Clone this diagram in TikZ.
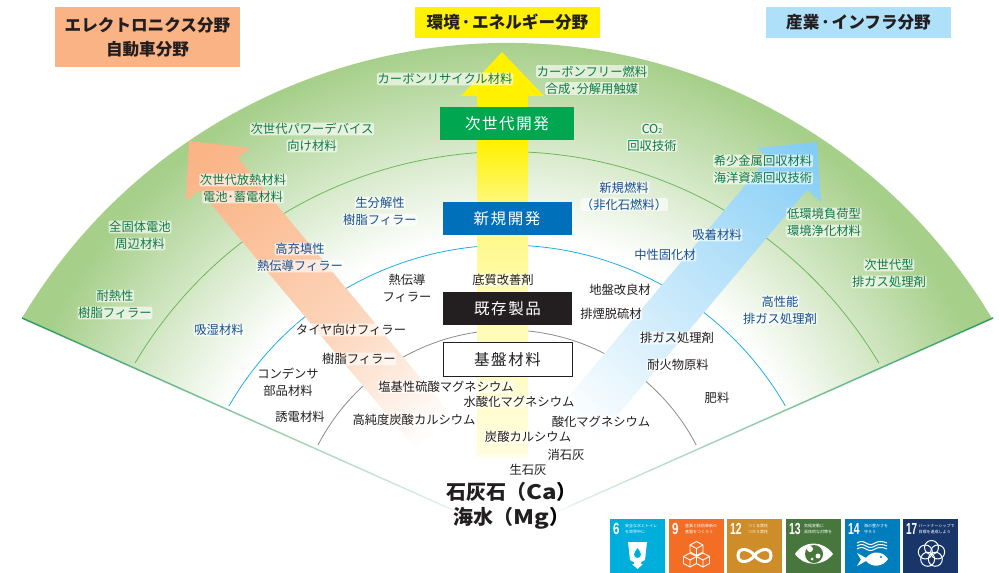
\documentclass[tikz,border=0pt]{standalone}
\usepackage{fontspec}
\setmainfont{Noto Sans CJK JP}
\newfontfamily\numfont{Liberation Sans}
\definecolor{fangreen}{HTML}{A6CF8A}
\definecolor{labelgreen}{HTML}{0F7A45}
\definecolor{labelblue}{HTML}{17508F}
\definecolor{labelblack}{HTML}{231F20}
\definecolor{arcgreen}{HTML}{6DB858}
\definecolor{arcblue}{HTML}{1EAEE6}
\definecolor{arcgray}{HTML}{8C8C8C}
\definecolor{edgegreen}{HTML}{2A9A5A}
\definecolor{boxgreen}{HTML}{00A650}
\definecolor{boxblue}{HTML}{0070BB}
\definecolor{headorange}{HTML}{FAB384}
\definecolor{headyellow}{HTML}{FFF100}
\definecolor{headblue}{HTML}{AEE0FA}
\definecolor{arrowblue}{HTML}{7FCBF5}
\definecolor{sdgsix}{HTML}{00AEDB}
\definecolor{sdgnine}{HTML}{F36D25}
\definecolor{sdgtwelve}{HTML}{CF8D2A}
\definecolor{sdgthirteen}{HTML}{48773E}
\definecolor{sdgfourteen}{HTML}{007DBC}
\definecolor{sdgseventeen}{HTML}{19366B}
\pgfdeclareradialshading{fanfade}{\pgfpointorigin}{color(0bp)=(white); color(14.5bp)=(white); color(23.6bp)=(fangreen); color(50bp)=(fangreen)}
\pgfdeclareverticalshading{yellowfade}{100bp}{color(0bp)=(white); color(25bp)=(white); color(26bp)=(headyellow!14); color(45bp)=(headyellow!30); color(57bp)=(headyellow!55); color(64bp)=(headyellow); color(100bp)=(headyellow)}
\pgfdeclareverticalshading{orangefade}{100bp}{color(0bp)=(white); color(21bp)=(white); color(45bp)=(headorange!55); color(72bp)=(headorange!90); color(85bp)=(headorange); color(100bp)=(headorange)}
\pgfdeclareverticalshading{bluefade}{100bp}{color(0bp)=(white); color(20bp)=(white); color(45bp)=(arrowblue!38); color(72bp)=(arrowblue!78); color(85bp)=(arrowblue); color(100bp)=(arrowblue)}
\tikzset{halobox/.style={fill=white, fill opacity=.62, text opacity=1, inner sep=.7pt, rounded corners=1.5pt}}
\newcommand{\halo}[1]{\tikz[baseline=(line.base)]\node[halobox] (line) {#1};}
\begin{document}
\begin{tikzpicture}[x=1pt,y=-1pt]
    \tikzstyle{greenlabel}=[text=labelgreen, align=center, inner sep=0pt, font=\fontsize{12.3}{17}\selectfont]
    \tikzstyle{bluelabel}=[greenlabel, text=labelblue]
    \tikzstyle{blacklabel}=[greenlabel, text=labelblack]
    \tikzstyle{stagebox}=[minimum width=129pt, minimum height=33pt, inner sep=0pt, text=white, font=\fontsize{15.5}{18}\selectfont\addfontfeature{LetterSpace=10}]
    \tikzstyle{headbox}=[minimum width=185pt, inner sep=0pt, align=center, text=labelblack, font=\fontsize{16.6}{24}\selectfont\bfseries]
    \tikzstyle{sdgtile}=[anchor=north west, minimum width=55pt, minimum height=54pt, inner sep=0pt]
    \tikzstyle{sdgnum}=[anchor=west, inner sep=0pt, text=white, font=\numfont\fontsize{16}{16}\selectfont\bfseries]
    \tikzstyle{sdgtext}=[anchor=west, inner sep=0pt, text=white, font=\fontsize{4}{6}\selectfont, align=left]
    \useasboundingbox (0,0) rectangle (999,573);

    \begin{scope}
      \clip (22,318) arc (210.88:329.12:565) -- (507,534) -- cycle;
      \shade[shading=fanfade] (-33,10) rectangle (1047,1090);
    \end{scope}

    \draw[arcgreen, line width=.8pt] (135,363) arc (210.8:329.2:433);
    \draw[arcblue, line width=.8pt] (229,406) arc (209.93:330.07:321);
    \draw[arcgray, line width=.8pt] (318,445) arc (207.4:332.6:213);

    \shade[shading=yellowfade] (477,460) -- (477,96) -- (461,96) -- (502,52) -- (544,96) -- (528,96) -- (528,460) -- cycle;
    \shade[shading=orangefade, shading angle=40] (189,141) -- (250,148) -- (238,158) -- (462,428) -- (425,460) -- (199,190) -- (186,201) -- cycle;
    \shade[shading=bluefade, shading angle=-40] (817,142) -- (757,148) -- (768,158) -- (553,415) -- (590,448) -- (807,190) -- (821,202) -- cycle;

    \shade[left color=edgegreen, middle color=edgegreen!75, right color=white] (22,317.2) -- (507,533.2) -- (507,534.8) -- (22,318.8) -- cycle;
    \shade[left color=white, middle color=edgegreen!75, right color=edgegreen] (993,317.2) -- (507,533.2) -- (507,534.8) -- (993,318.8) -- cycle;

    \node[stagebox, fill=boxgreen, minimum width=134pt] (nextdev) at (507,123.5) {次世代開発};
    \node[stagebox, fill=boxblue] (newdev) at (507,218.5) {新規開発};
    \node[stagebox, fill=labelblack] (existing) at (507.5,308.5) {既存製品};
    \node[stagebox, fill=white, draw=labelblack, line width=.8pt, text=labelblack, minimum height=34pt] (base) at (507.5,359.5) {基盤材料};

    \node[headbox, fill=headorange, minimum height=60pt] (headleft) at (147.5,37) {エレクトロニクス分野\\自動車分野};
    \node[headbox, fill=headyellow, minimum height=31pt] (headmid) at (507.5,22.5) {環境\kern2pt･\kern2pt エネルギー分野};
    \node[headbox, fill=headblue, minimum height=31pt] (headright) at (858.5,22.5) {産業\kern2pt･\kern2pt インフラ分野};

    \node[greenlabel] (crmat) at (445,79) {\halo{カーボンリサイクル材料}};
    \node[greenlabel] (cffuel) at (592,80) {\halo{カーボンフリー燃料}\\\halo{合成･分解用触媒}};
    \node[greenlabel] (power) at (312,137.5) {\halo{次世代パワーデバイス}\\\halo{向け材料}};
    \node[greenlabel] (cotwo) at (652,137.5) {\halo{CO\raisebox{-.1ex}{\fontsize{7}{7}\selectfont 2}}\\\halo{回収技術}};
    \node[greenlabel] (heat) at (243,188.5) {\halo{次世代放熱材料}\\\halo{電池･蓄電材料}};
    \node[greenlabel] (solid) at (140,235.5) {\halo{全固体電池}\\\halo{周辺材料}};
    \node[greenlabel] (resist) at (115,304.5) {\halo{耐熱性}\\\halo{樹脂フィラー}};
    \node[greenlabel] (rare) at (763,169.5) {\halo{希少金属回収材料}\\\halo{海洋資源回収技術}};
    \node[greenlabel] (lowload) at (824,222.5) {\halo{低環境負荷型}\\\halo{環境浄化材料}};
    \node[greenlabel] (nextexh) at (889,273.5) {\halo{次世代型}\\\halo{排ガス処理剤}};

    \node[bluelabel] (biodeg) at (380,211.5) {\halo{生分解性}\\\halo{樹脂フィラー}};
    \node[bluelabel] (hifill) at (300,257.5) {\halo{高充填性}\\\halo{熱伝導フィラー}};
    \node[bluelabel] (moist) at (219,330) {\halo{吸湿材料}};
    \node[bluelabel] (newfuel) at (624,196) {\halo{新規燃料}\\\halo{（非化石燃料）}};
    \node[bluelabel] (adsorb) at (717,235) {\halo{吸着材料}};
    \node[bluelabel] (neutral) at (665,255) {\halo{中性固化材}};
    \node[bluelabel] (hiperf) at (780,310) {\halo{高性能}\\\halo{排ガス処理剤}};

    \node[blacklabel] (thermal) at (407,288.5) {\halo{熱伝導}\\\halo{フィラー}};
    \node[blacklabel] (sediment) at (503,280) {\halo{底質改善剤}};
    \node[blacklabel] (ground) at (620,290) {\halo{地盤改良材}};
    \node[blacklabel] (flue) at (611,314) {\halo{排煙脱硫材}};
    \node[blacklabel] (exhaust) at (677,338) {\halo{排ガス処理剤}};
    \node[blacklabel] (refract) at (678,365) {\halo{耐火物原料}};
    \node[blacklabel] (fertil) at (717,398) {\halo{肥料}};
    \node[blacklabel] (tire) at (351,330) {\halo{タイヤ向けフィラー}};
    \node[blacklabel] (resin) at (359,359) {\halo{樹脂フィラー}};
    \node[blacklabel] (capac) at (288,382.5) {\halo{コンデンサ}\\\halo{部品材料}};
    \node[blacklabel] (dielec) at (300,417) {\halo{誘電材料}};
    \node[blacklabel] (basicmg) at (446,387) {\halo{塩基性硫酸マグネシウム}};
    \node[blacklabel] (hydmg) at (519,402) {\halo{水酸化マグネシウム}};
    \node[blacklabel] (purecal) at (414,420) {\halo{高純度炭酸カルシウム}};
    \node[blacklabel] (oxmg) at (601,422) {\halo{酸化マグネシウム}};
    \node[blacklabel] (carbcal) at (528,437) {\halo{炭酸カルシウム}};
    \node[blacklabel] (slaked) at (566,455) {\halo{消石灰}};
    \node[blacklabel] (quick) at (528,470) {\halo{生石灰}};

    \node[inner sep=0pt, align=center, text=labelblack, font=\fontsize{20}{25}\selectfont\bfseries] (source) at (511.5,505.5) {\halo{石灰石（\scalebox{1.2}[1]{Ca}）}\\\halo{海水（\scalebox{1.2}[1]{Mg}）}};

    \foreach \tname/\tx/\tcol/\tnum/\tgap/\tone/\ttwo/\tscale in {
      six/610/sdgsix/6/15/安全な水とトイレ/を世界中に/.72,
      nine/669/sdgnine/9/16/産業と技術革新の/基盤をつくろう/.72,
      twelve/727/sdgtwelve/12/21/つくる責任/つかう責任/.65,
      thirteen/786/sdgthirteen/13/18/気候変動に/具体的な対策を/.65,
      fourteen/845/sdgfourteen/14/19/海の豊かさを/守ろう/.65,
      seventeen/903/sdgseventeen/17/15.5/パートナーシップで/目標を達成しよう/.62}{
      \node[sdgtile, fill=\tcol] (tile\tname) at (\tx,519) {};
      \node[sdgnum] (num\tname) at (\tx+3,529) {\scalebox{\tscale}[1]{\tnum}};
      \node[sdgtext] (text\tname) at (\tx+\tgap,529) {\tone\\\ttwo};
    }

    \begin{scope}[shift={(610,519)}]
      \fill[white] (18,23) -- (37,23) -- (35,41) -- (31,43) -- (31,45) -- (33,45) -- (27.5,50) -- (22,45) -- (24,45) -- (24,43) -- (20,41) -- cycle;
      \fill[sdgsix] (27.5,29) .. controls (29,32) and (31,33) .. (31,35.5) .. controls (31,40) and (24,40) .. (24,35.5) .. controls (24,33) and (26,32) .. (27.5,29);
    \end{scope}

    \begin{scope}[shift={(669,519)}]
      \foreach \cx/\cy in {27.5/29.5, 21/41, 34/41}{
        \draw[white, line width=.9pt, line join=round] (\cx,\cy-7) -- (\cx+6.5,\cy-3.5) -- (\cx+6.5,\cy+3.5) -- (\cx,\cy+7) -- (\cx-6.5,\cy+3.5) -- (\cx-6.5,\cy-3.5) -- cycle;
        \draw[white, line width=.9pt] (\cx-6.5,\cy-3.5) -- (\cx,\cy) -- (\cx+6.5,\cy-3.5) (\cx,\cy) -- (\cx,\cy+7);
      }
    \end{scope}

    \begin{scope}[shift={(727,519)}]
      \draw[white, line width=3pt] (27.5,36.5) .. controls (33,29) and (44,28) .. (44,36.5) .. controls (44,45) and (33,44) .. (27.5,36.5) .. controls (22,29) and (11,28) .. (11,36.5) .. controls (11,45) and (22,44) .. (27.5,36.5);
    \end{scope}

    \begin{scope}[shift={(786,519)}]
      \fill[white] (9,35) .. controls (18,21) and (37,21) .. (47,35) .. controls (37,48) and (18,48) .. (9,35);
      \fill[sdgthirteen] (28,35) circle (9);
      \fill[white] (24,30) circle (3) (32,37) circle (2.5) (26,40) circle (1.5);
    \end{scope}

    \begin{scope}[shift={(845,519)}]
      \foreach \wy in {24,27,30}{
        \draw[white, line width=1pt] (12,\wy) .. controls (15,\wy-2) and (18,\wy-2) .. (21,\wy) .. controls (24,\wy+2) and (27,\wy+2) .. (30,\wy) .. controls (33,\wy-2) and (38,\wy-2) .. (42,\wy);
      }
      \fill[white] (12,34) -- (21,39) .. controls (27,31) and (38,32) .. (43,40) .. controls (38,48) and (27,49) .. (21,42) -- (12,47) -- (16,40.5) -- cycle;
      \fill[sdgfourteen] (36,38) circle (1.2);
    \end{scope}

    \begin{scope}[shift={(903,519)}]
      \foreach \ang in {-90,-18,54,126,198}{
        \draw[white, line width=1pt] (28.5,35) ++(\ang:6.5) circle (7);
      }
    \end{scope}
  \end{tikzpicture}
\end{document}
